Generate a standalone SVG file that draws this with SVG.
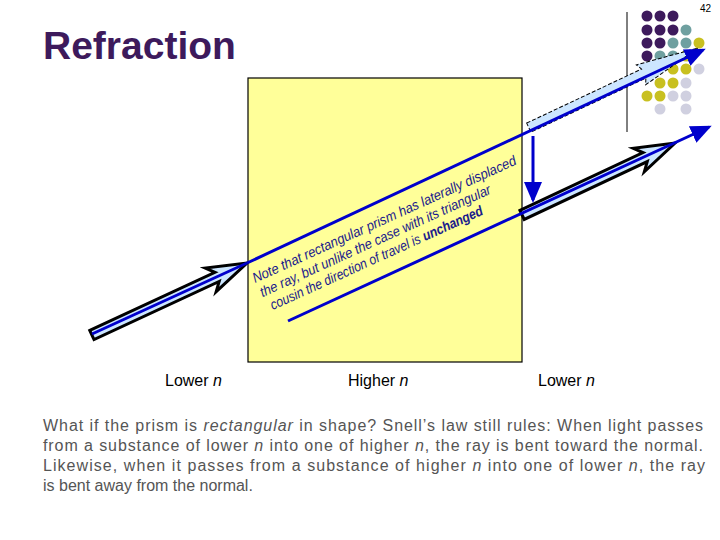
<svg xmlns="http://www.w3.org/2000/svg" width="720" height="540" viewBox="0 0 720 540">
<style>
.t{font-family:"Liberation Sans",Arial,sans-serif}
.lab{font-size:16px;fill:#000}
.p{font-size:16px;fill:#555}
.note{font-size:14px;font-style:italic;fill:#1a1a8c}
.ray{stroke:#0000cc;stroke-width:3;fill:none}
.hol{fill:#cce6ff;stroke:#000;stroke-width:3}
.dash{fill:#cce6ff;stroke:#000;stroke-width:1;stroke-dasharray:4,2}
</style>
<defs>
<marker id="ah" markerWidth="8" markerHeight="8" refX="6" refY="4" orient="auto" markerUnits="strokeWidth"><path d="M0,1 L7,4 L0,7 Z" fill="#0000cc"/></marker>
</defs>
<text class="t" x="700" y="12" font-size="10">42</text>
<text class="t" x="43" y="59" font-size="39" font-weight="bold" fill="#3d1a5c">Refraction</text>
<g id="dots">
<g fill="#3d1a5c"><circle cx="647" cy="16" r="5.5"/><circle cx="660" cy="16" r="5.5"/><circle cx="673" cy="16" r="5.5"/>
<circle cx="647" cy="30" r="5.5"/><circle cx="660" cy="30" r="5.5"/><circle cx="673" cy="30" r="5.5"/>
<circle cx="647" cy="43" r="5.5"/><circle cx="660" cy="43" r="5.5"/><circle cx="647" cy="56" r="5.5"/></g>
<g fill="#6fa0a0"><circle cx="686" cy="30" r="5.5"/><circle cx="673" cy="43" r="5.5"/><circle cx="686" cy="43" r="5.5"/><circle cx="660" cy="56" r="5.5"/><circle cx="673" cy="56" r="5.5"/></g>
<g fill="#c8c020"><circle cx="699" cy="43" r="5.5"/><circle cx="686" cy="56" r="5.5"/><circle cx="673" cy="69" r="5.5"/><circle cx="686" cy="69" r="5.5"/><circle cx="660" cy="83" r="5.5"/><circle cx="673" cy="83" r="5.5"/><circle cx="647" cy="96" r="5.5"/><circle cx="660" cy="96" r="5.5"/></g>
<g fill="#d0d0e0"><circle cx="699" cy="69" r="5.5"/><circle cx="686" cy="83" r="5.5"/><circle cx="673" cy="96" r="5.5"/><circle cx="686" cy="96" r="5.5"/><circle cx="660" cy="109" r="5.5"/><circle cx="686" cy="109" r="5.5"/></g>
</g>
<line x1="627" y1="12" x2="627" y2="132" stroke="#000" stroke-width="1"/>
<g id="prism"><rect x="248" y="78" width="274" height="284" fill="#ffff99" stroke="#000" stroke-width="1.2"/></g>
<g id="note" class="t note">
<g transform="translate(255,283) rotate(-24.4)">
<text x="0" y="0" textLength="288" lengthAdjust="spacingAndGlyphs">Note that rectangular prism has laterally displaced</text>
<text x="1" y="16" textLength="252" lengthAdjust="spacingAndGlyphs">the ray, but unlike the case with its triangular</text>
<text x="5" y="32" textLength="232" lengthAdjust="spacingAndGlyphs">cousin the direction of travel is <tspan font-weight="bold">unchanged</tspan></text>
</g>
</g>
<g id="connectors">
<path class="hol" transform="translate(247,263) rotate(-24.9)" d="M-171,-5 L-33,-5 L-40,-13 L0,0 L-40,13 L-33,5 L-171,5 Z"/>
<path class="hol" transform="translate(675,143) rotate(-25.2)" d="M-169,-5 L-33,-5 L-40,-13 L0,0 L-40,13 L-33,5 L-169,5 Z"/>
<path class="dash" transform="translate(698,48) rotate(-25.2)" d="M-187,-5 L-60,-5 L-63,-11 L0,0 L-63,11 L-60,5 L-187,5 Z"/>
<line class="ray" x1="92" y1="334" x2="247" y2="263"/>
<line class="ray" x1="247" y1="263" x2="703" y2="50" marker-end="url(#ah)"/>
<line class="ray" x1="288" y1="321" x2="709" y2="127" marker-end="url(#ah)"/>
<line class="ray" x1="533" y1="136" x2="533" y2="200" marker-end="url(#ah)"/>
</g>
<g class="t lab">
<text x="165" y="386">Lower <tspan font-style="italic">n</tspan></text>
<text x="348" y="386">Higher <tspan font-style="italic">n</tspan></text>
<text x="538" y="386">Lower <tspan font-style="italic">n</tspan></text>
</g>
<g class="t p">
<text x="43" y="431" textLength="660">What if the prism is <tspan font-style="italic">rectangular</tspan> in shape? Snell’s law still rules: When light passes</text>
<text x="43" y="451" textLength="660">from a substance of lower <tspan font-style="italic">n</tspan> into one of higher <tspan font-style="italic">n</tspan>, the ray is bent toward the normal.</text>
<text x="43" y="471" textLength="662">Likewise, when it passes from a substance of higher <tspan font-style="italic">n</tspan> into one of lower <tspan font-style="italic">n</tspan>, the ray</text>
<text x="43" y="491">is bent away from the normal.</text>
</g>
</svg>
